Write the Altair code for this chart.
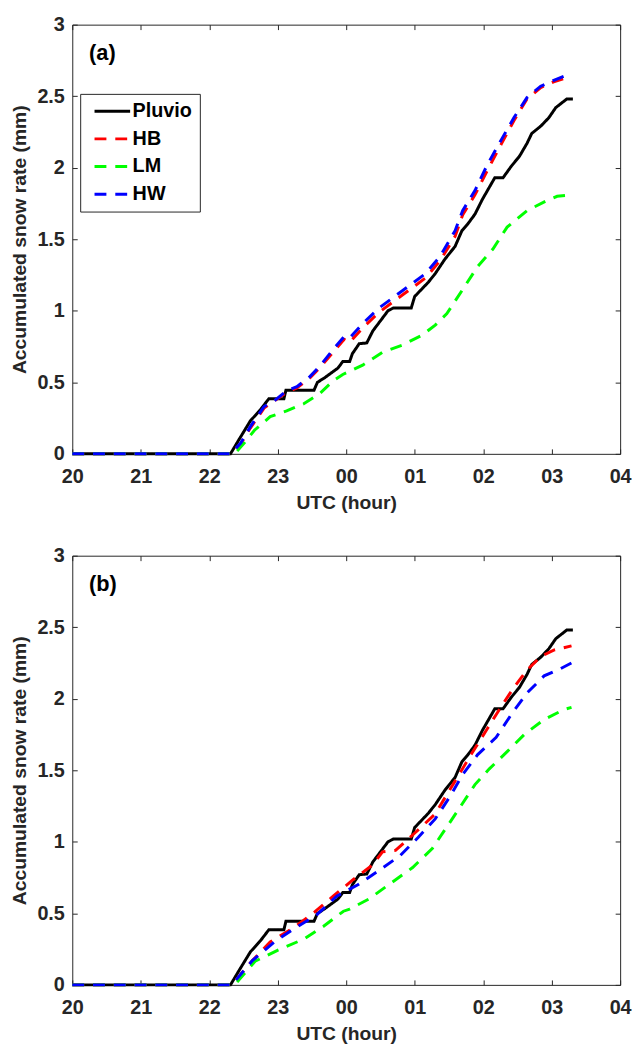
import altair as alt
import pandas as pd

SERIES = ["Pluvio", "HB", "LM", "HW"]
COLORS = ["#000000", "#ff0000", "#00ff00", "#0000ff"]
DASHES = [[1, 0], [12, 9], [12, 9], [12, 9]]

x_ticks = [20, 21, 22, 23, 24, 25, 26, 27, 28]
y_ticks = [0, 0.5, 1, 1.5, 2, 2.5, 3]

# Pluvio gauge (same in both panels); hours after 20 UTC, values > 24 are next day
pluvio_t = [20.0, 22.31, 22.46, 22.60, 22.75, 22.87, 23.09, 23.12, 23.53, 23.58, 23.68,
            23.88, 23.95, 24.05, 24.09, 24.19, 24.30, 24.39, 24.50, 24.61, 24.69, 24.95,
            25.00, 25.12, 25.20, 25.30, 25.44, 25.59, 25.69, 25.78, 25.88, 25.99, 26.17,
            26.29, 26.41, 26.53, 26.64, 26.71, 26.84, 26.96, 27.06, 27.22, 27.31]
pluvio_v = [0, 0, 0.12, 0.23, 0.31, 0.385, 0.385, 0.445, 0.445, 0.50, 0.53,
            0.60, 0.645, 0.645, 0.70, 0.77, 0.775, 0.86, 0.93, 1.00, 1.02, 1.02,
            1.10, 1.16, 1.20, 1.26, 1.36, 1.45, 1.56, 1.61, 1.675, 1.78, 1.93,
            1.93, 2.01, 2.08, 2.17, 2.24, 2.29, 2.35, 2.42, 2.48, 2.48]

# Panel (a)
a_hbhw_t = [20.0, 22.31, 22.46, 22.60, 22.80, 22.95, 23.13, 23.28, 23.47, 23.61, 23.81,
            23.97, 24.05, 24.24, 24.48, 24.82, 25.16, 25.37, 25.59, 25.70, 25.88, 26.06,
            26.27, 26.45, 26.64, 26.84, 27.03, 27.29]
a_hb_v = [0, 0, 0.07, 0.18, 0.32, 0.37, 0.43, 0.46, 0.53, 0.60, 0.71,
          0.80, 0.78, 0.88, 0.99, 1.11, 1.23, 1.35, 1.52, 1.67, 1.81, 1.98,
          2.17, 2.33, 2.48, 2.56, 2.60, 2.64]
a_hw_v = [0, 0, 0.075, 0.19, 0.33, 0.37, 0.44, 0.47, 0.54, 0.61, 0.73,
          0.82, 0.81, 0.91, 1.02, 1.14, 1.26, 1.38, 1.56, 1.70, 1.84, 2.02,
          2.20, 2.35, 2.49, 2.57, 2.61, 2.66]
a_lm_t = [20.0, 22.37, 22.51, 22.66, 22.89, 23.13, 23.38, 23.61, 23.81, 23.95, 24.24,
          24.53, 24.82, 25.11, 25.30, 25.47, 25.73, 25.92, 26.14, 26.35, 26.64, 26.93,
          27.08, 27.29]
a_lm_v = [0, 0, 0.075, 0.165, 0.26, 0.30, 0.35, 0.42, 0.51, 0.555, 0.62,
          0.71, 0.76, 0.83, 0.90, 0.98, 1.17, 1.31, 1.43, 1.585, 1.70, 1.77,
          1.80, 1.81]

# Panel (b)
b_hb_t = [20.0, 22.33, 22.63, 22.89, 23.25, 23.54, 23.81, 24.10, 24.39, 24.53, 24.72,
          25.01, 25.30, 25.47, 25.66, 25.83, 26.06, 26.27, 26.45, 26.64, 26.84, 27.03, 27.29]
b_hb_v = [0, 0, 0.17, 0.30, 0.405, 0.51, 0.62, 0.735, 0.84, 0.93, 0.94,
          1.065, 1.195, 1.33, 1.48, 1.615, 1.79, 1.95, 2.08, 2.20, 2.295, 2.34, 2.37]
b_hw_t = [20.0, 22.33, 22.63, 22.95, 23.23, 23.57, 23.86, 24.17, 24.48, 24.79, 25.05,
          25.30, 25.52, 25.70, 25.92, 26.19, 26.41, 26.64, 26.89, 27.13, 27.29]
b_hw_v = [0, 0, 0.17, 0.30, 0.39, 0.49, 0.62, 0.70, 0.80, 0.905, 1.03,
          1.16, 1.32, 1.47, 1.61, 1.73, 1.89, 2.04, 2.16, 2.21, 2.25]
b_lm_t = [20.0, 22.37, 22.67, 22.99, 23.38, 23.67, 23.96, 24.05, 24.33, 24.62, 24.97,
          25.26, 25.66, 25.88, 26.09, 26.35, 26.60, 26.89, 27.18, 27.29]
b_lm_v = [0, 0, 0.165, 0.24, 0.32, 0.41, 0.515, 0.53, 0.60, 0.70, 0.82,
          0.955, 1.24, 1.40, 1.51, 1.63, 1.75, 1.855, 1.925, 1.94]


def frame(parts):
    rows = []
    for name, ts, vs in parts:
        for i, (t, v) in enumerate(zip(ts, vs)):
            rows.append({"t": t, "v": v, "series": name, "idx": i})
    return pd.DataFrame(rows)


df_a = frame([("Pluvio", pluvio_t, pluvio_v), ("HB", a_hbhw_t, a_hb_v),
              ("LM", a_lm_t, a_lm_v), ("HW", a_hbhw_t, a_hw_v)])
df_b = frame([("Pluvio", pluvio_t, pluvio_v), ("HB", b_hb_t, b_hb_v),
              ("LM", b_lm_t, b_lm_v), ("HW", b_hw_t, b_hw_v)])

XS = alt.Scale(domain=[20, 28], nice=False, zero=False)
YS = alt.Scale(domain=[0, 3], nice=False)
HOUR_LABEL = "(datum.value % 24 < 10 ? '0' : '') + (datum.value % 24)"
W, H = 554, 434
FONT = "Liberation Sans"


def tick_axis(orient, vals):
    return alt.Axis(orient=orient, values=vals, labels=False, domain=False, ticks=True,
                    tickSize=5, offset=-5, title=None, grid=False,
                    tickColor="#262626", tickWidth=1)


def panel(df, tag):
    leg = alt.Legend(title=None, orient="none", legendX=8, legendY=70)
    base = alt.Chart(df)
    lines = base.mark_line(strokeWidth=3, strokeCap="butt").encode(
        x=alt.X("t:Q", scale=XS,
                axis=alt.Axis(orient="bottom", values=x_ticks, labelExpr=HOUR_LABEL,
                              ticks=False, domain=False, title="UTC (hour)",
                              labelFlush=False, labelOverlap=False,
                              labelPadding=13, titlePadding=7)),
        y=alt.Y("v:Q", scale=YS,
                axis=alt.Axis(orient="left", values=y_ticks, labelExpr="datum.value + ''",
                              ticks=False, domain=False,
                              labelFlush=False, labelOverlap=False,
                              title="Accumulated snow rate (mm)",
                              labelPadding=8, titlePadding=8)),
        color=alt.Color("series:N", scale=alt.Scale(domain=SERIES, range=COLORS), legend=leg),
        strokeDash=alt.StrokeDash("series:N", scale=alt.Scale(domain=SERIES, range=DASHES),
                                  legend=leg),
        order=alt.Order("idx:Q"),
    )
    t1 = base.mark_point(opacity=0).encode(
        x=alt.X("t:Q", scale=XS, axis=tick_axis("bottom", x_ticks)),
        y=alt.Y("v:Q", scale=YS, axis=tick_axis("left", y_ticks)),
    )
    t2 = base.mark_point(opacity=0).encode(
        x=alt.X("t:Q", scale=XS, axis=tick_axis("top", x_ticks)),
        y=alt.Y("v:Q", scale=YS, axis=tick_axis("right", y_ticks)),
    )
    label = alt.Chart(pd.DataFrame({"tag": [tag]})).mark_text(
        align="left", baseline="middle", fontSize=22, fontWeight="bold",
        font=FONT, color="#000000",
    ).encode(text="tag:N", x=alt.value(17), y=alt.value(29))
    return alt.layer(lines, t1, t2, label).resolve_axis(
        x="independent", y="independent").properties(width=W, height=H)


chart = alt.vconcat(panel(df_a, "(a)"), panel(df_b, "(b)"), spacing=33).properties(
    padding={"left": 0, "top": 0, "right": 0, "bottom": 0}
).configure_view(
    stroke="#262626", strokeWidth=1
).configure_axis(
    labelFont=FONT, labelFontSize=20, labelFontWeight="bold",
    labelColor="#262626", titleFont=FONT, titleFontSize=19.5,
    titleFontWeight="bold", titleColor="#262626", grid=False,
).configure_legend(
    strokeColor="#262626", fillColor="#ffffff", padding=7,
    labelFont=FONT, labelFontSize=20, labelFontWeight="bold",
    labelColor="#000000", symbolType="M-2,0H2", symbolSize=324,
    symbolStrokeWidth=3, symbolOffset=15, rowPadding=7, labelOffset=10,
)

chart.save("out.html", embed_options={"renderer": "svg", "actions": False})
